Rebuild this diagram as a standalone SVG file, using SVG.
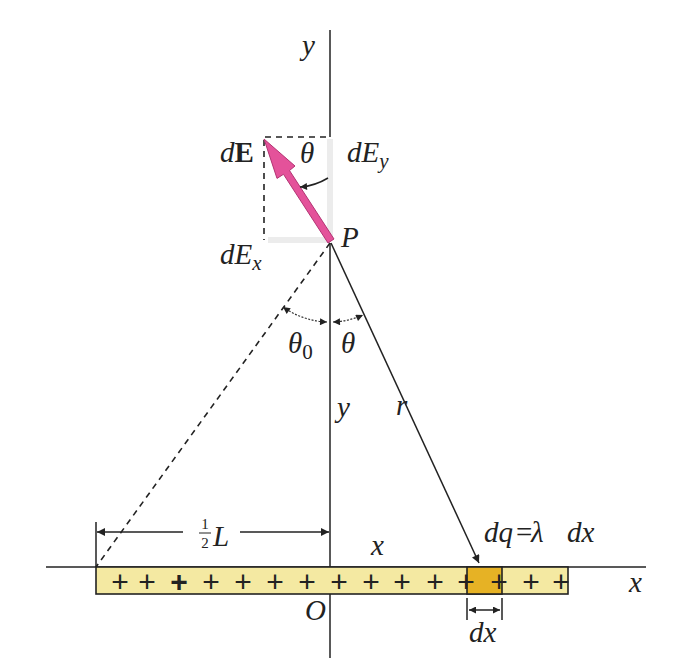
<svg xmlns="http://www.w3.org/2000/svg" width="674" height="658" viewBox="0 0 674 658">
<defs>
<style>
.t{font-family:"Liberation Serif","DejaVu Serif",serif;font-style:italic;font-size:29px;fill:#222}
.ln{stroke:#222;stroke-width:1.5;fill:none}
.ds{stroke:#222;stroke-width:1.6;fill:none;stroke-dasharray:6,5}
.arc{stroke:#333;stroke-width:1.2;fill:none;stroke-dasharray:2,1.5}
</style>
<marker id="ah" viewBox="0 0 10 10" refX="10" refY="5" markerWidth="10" markerHeight="8" markerUnits="userSpaceOnUse" orient="auto-start-reverse">
<path d="M0,0 L10,5 L0,10 z" fill="#222"/>
</marker>
<marker id="ahs" viewBox="0 0 10 10" refX="10" refY="5" markerWidth="9" markerHeight="7" markerUnits="userSpaceOnUse" orient="auto-start-reverse">
<path d="M0,0 L10,5 L0,10 z" fill="#222"/>
</marker>
</defs>
<rect width="674" height="658" fill="#fff"/>

<g id="axes">
<line class="ln" x1="330" y1="30" x2="330" y2="137"/>
<line class="ln" x1="330" y1="243" x2="330" y2="658"/>
<line class="ln" x1="46" y1="567" x2="646" y2="567"/>
</g>

<g id="bar">
<rect x="96" y="567" width="472" height="27" fill="#f4e9a2" stroke="#222" stroke-width="1.6"/>
<rect x="467" y="567" width="35" height="27" fill="#e6b225" stroke="#222" stroke-width="1.6"/>
<g font-family="Liberation Sans, DejaVu Sans, sans-serif" font-size="30" fill="#222" text-anchor="middle">
<text x="120" y="592">+</text><text x="147" y="592">+</text><text x="179" y="592" font-weight="bold">+</text>
<text x="211" y="592">+</text><text x="243" y="592">+</text><text x="275" y="592">+</text>
<text x="307" y="592">+</text><text x="339" y="592">+</text><text x="371" y="592">+</text>
<text x="402" y="592">+</text><text x="435" y="592">+</text><text x="466" y="592">+</text>
<text x="499" y="592">+</text><text x="531" y="592">+</text><text x="561" y="592">+</text>
</g>
</g>

<g id="components">
<line x1="330" y1="139" x2="330" y2="238" stroke="#ececec" stroke-width="6"/>
<line x1="268" y1="240" x2="328" y2="240" stroke="#ececec" stroke-width="6"/>
<line class="ds" x1="265" y1="137" x2="330" y2="137"/>
<line class="ds" x1="264" y1="140" x2="264" y2="240"/>
</g>

<g id="dE">
<polygon points="264,139 295,166 289.5,170.5 334,239 328,243 283.5,174.3 277,178.4" fill="#e4529a" stroke="#b33473" stroke-width="1"/>
</g>

<g id="connectors">
<line class="ds" x1="330" y1="243" x2="96" y2="567"/>
<line class="ln" x1="331" y1="243" x2="479" y2="563" stroke-width="1.2" marker-end="url(#ah)"/>
<path class="arc" d="M283,307 A81,81 0 0 0 327,322" marker-start="url(#ahs)" marker-end="url(#ahs)"/>
<path class="arc" d="M333,322 A81,81 0 0 0 363,315" marker-start="url(#ahs)" marker-end="url(#ahs)"/>
<path class="ln" stroke-width="1.2" d="M328,178 A62,62 0 0 1 300,187" marker-end="url(#ahs)"/>
<line class="ln" stroke-width="1" x1="96" y1="522" x2="96" y2="567"/>
<line class="ln" stroke-width="1.2" x1="183" y1="532" x2="97" y2="532" marker-end="url(#ah)"/>
<line class="ln" stroke-width="1.2" x1="240" y1="532" x2="329" y2="532" marker-end="url(#ah)"/>
<line class="ln" stroke-width="1" x1="467" y1="598" x2="467" y2="620"/>
<line class="ln" stroke-width="1" x1="502" y1="598" x2="502" y2="620"/>
<line class="ln" stroke-width="1.2" x1="469" y1="610" x2="500" y2="610" marker-start="url(#ahs)" marker-end="url(#ahs)"/>
</g>

<g id="labels">
<text class="t" x="302" y="55">y</text>
<text class="t" x="220" y="162">d<tspan font-style="normal" font-weight="bold">E</tspan></text>
<text class="t" x="300" y="163">θ</text>
<text class="t" x="347" y="162">dE<tspan font-size="21" dy="6">y</tspan></text>
<text class="t" x="341" y="247">P</text>
<text class="t" x="220" y="264">dE<tspan font-size="21" dy="6">x</tspan></text>
<text class="t" x="288" y="353">θ<tspan font-style="normal" font-size="21" dy="6">0</tspan></text>
<text class="t" x="341" y="353">θ</text>
<text class="t" x="337" y="417">y</text>
<text class="t" x="396" y="415">r</text>
<text x="205" y="529" text-anchor="middle" style="font-family:'Liberation Serif','DejaVu Serif',serif;font-size:15px;fill:#222">1</text>
<line x1="199" y1="533" x2="211" y2="533" stroke="#222" stroke-width="1"/>
<text x="205" y="548" text-anchor="middle" style="font-family:'Liberation Serif','DejaVu Serif',serif;font-size:15px;fill:#222">2</text>
<text class="t" x="213" y="546">L</text>
<text class="t" x="371" y="555">x</text>
<text class="t" x="484" y="542">dq<tspan x="516" font-style="normal">=</tspan><tspan x="531">λ</tspan><tspan x="567">dx</tspan></text>
<text class="t" x="629" y="592">x</text>
<text class="t" x="305" y="620">O</text>
<text class="t" x="469" y="642">dx</text>
</g>
</svg>
